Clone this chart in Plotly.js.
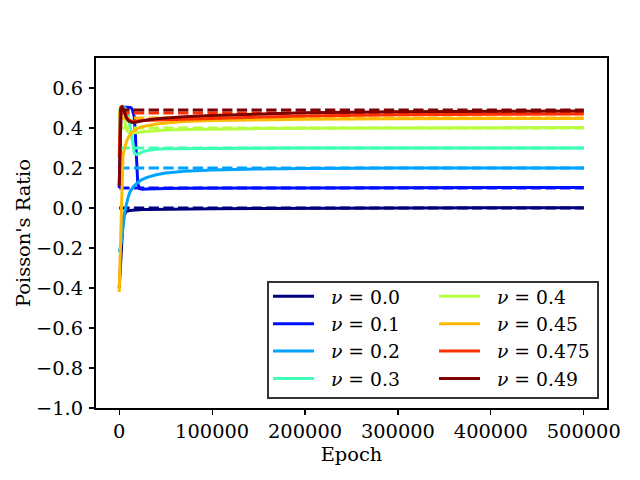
<!DOCTYPE html>
<html>
<head>
<meta charset="utf-8">
<script src="https://cdn.plot.ly/plotly-3.0.1.min.js"></script>
<style>html,body{margin:0;padding:0;background:#fff;}#chart{width:640px;height:480px;}</style>
</head>
<body>
<div id="chart"></div>
<script>
// ---- data ----
const nus = [0.0, 0.1, 0.2, 0.3, 0.4, 0.45, 0.475, 0.49];
const nuLabels = ['0.0', '0.1', '0.2', '0.3', '0.4', '0.45', '0.475', '0.49'];
const epochs = [0, 1000, 2000, 3000, 4000, 5000, 6000, 7000, 8000, 10000, 12000, 14000, 16000, 17000, 18000, 19000, 20000, 22000, 25000, 30000, 40000, 50000, 70000, 100000, 150000, 200000, 300000, 400000, 500000];
const pr_00  = [-0.40, -0.31, -0.22, -0.13, -0.07, -0.04, -0.028, -0.02, -0.016, -0.013, -0.012, -0.011, -0.010, -0.010, -0.010, -0.009, -0.009, -0.009, -0.008, -0.008, -0.007, -0.006, -0.005, -0.004, -0.002, -0.001, 0.000, 0.001, 0.001];
const pr_01  = [0.10, 0.42, 0.50, 0.505, 0.505, 0.505, 0.505, 0.505, 0.505, 0.505, 0.503, 0.495, 0.46, 0.40, 0.29, 0.18, 0.12, 0.097, 0.094, 0.095, 0.097, 0.098, 0.099, 0.100, 0.100, 0.100, 0.101, 0.103, 0.103];
const pr_02  = [-0.22, -0.20, -0.18, -0.14, -0.09, -0.05, -0.02, 0.005, 0.03, 0.06, 0.085, 0.10, 0.11, 0.115, 0.12, 0.124, 0.128, 0.135, 0.143, 0.153, 0.166, 0.175, 0.184, 0.19, 0.195, 0.198, 0.20, 0.20, 0.20];
const pr_03  = [0.35, 0.48, 0.50, 0.505, 0.505, 0.50, 0.50, 0.495, 0.49, 0.46, 0.40, 0.32, 0.28, 0.272, 0.268, 0.267, 0.268, 0.273, 0.28, 0.288, 0.294, 0.296, 0.297, 0.298, 0.299, 0.30, 0.30, 0.30, 0.30];
const pr_04  = [0.45, 0.50, 0.505, 0.50, 0.485, 0.46, 0.43, 0.41, 0.39, 0.378, 0.375, 0.375, 0.376, 0.377, 0.377, 0.378, 0.378, 0.379, 0.381, 0.383, 0.387, 0.39, 0.392, 0.395, 0.397, 0.399, 0.40, 0.401, 0.402];
const pr_045 = [-0.42, -0.25, 0.02, 0.20, 0.26, 0.285, 0.305, 0.32, 0.335, 0.355, 0.37, 0.38, 0.388, 0.391, 0.394, 0.397, 0.40, 0.403, 0.407, 0.412, 0.42, 0.425, 0.432, 0.437, 0.441, 0.444, 0.446, 0.447, 0.448];
const pr_0475 = [0.25, 0.48, 0.505, 0.505, 0.50, 0.49, 0.475, 0.46, 0.45, 0.44, 0.435, 0.433, 0.433, 0.433, 0.434, 0.434, 0.435, 0.436, 0.437, 0.438, 0.44, 0.441, 0.444, 0.448, 0.455, 0.46, 0.466, 0.469, 0.47];
const pr_049 = [0.11, 0.42, 0.50, 0.505, 0.50, 0.49, 0.475, 0.46, 0.448, 0.435, 0.43, 0.428, 0.428, 0.428, 0.429, 0.43, 0.431, 0.433, 0.436, 0.44, 0.446, 0.45, 0.456, 0.462, 0.47, 0.476, 0.481, 0.484, 0.485];
const series = [pr_00, pr_01, pr_02, pr_03, pr_04, pr_045, pr_0475, pr_049];
const epochEnd = 500000;
const xTicks = [0, 100000, 200000, 300000, 400000, 500000];
const yTicks = [-1.0, -0.8, -0.6, -0.4, -0.2, 0.0, 0.2, 0.4, 0.6];

// ---- styles ----
const colors = ['#00007f', '#0010ff', '#00a4ff', '#40ffb6', '#b6ff40', '#ffb900', '#ff3000', '#7f0000'];
const LW = 3;
const FS = 19.4;
const LFS = 18.8;
const traces = [];
nus.forEach((nu, i) => {
  traces.push({
    type: 'scatter', mode: 'lines', x: epochs, y: series[i],
    line: {color: colors[i], width: LW},
    name: '\u00a0\u00a0<i>\u03bd</i> = ' + nuLabels[i],
    legend: i < 4 ? 'legend' : 'legend2',
    legendgroup: 'g' + i,
    hoverinfo: 'skip'
  });
  traces.push({
    type: 'scatter', mode: 'lines', x: [0, epochEnd], y: [nu, nu],
    line: {color: colors[i], width: LW, dash: '10.3px,4.4px'},
    showlegend: false, hoverinfo: 'skip'
  });
});

const W = 511, H = 350, L = 96, T = 58;
const px = v => (v - L) / W;
const py = v => (T + H - v) / H;
const axisCommon = {
  showline: true, mirror: true, linewidth: 2, linecolor: '#000',
  ticks: 'outside', ticklen: 5, tickwidth: 1.1, tickcolor: '#000',
  showgrid: false, zeroline: false, fixedrange: true,
  tickfont: {size: FS}
};
const legCommon = {
  bgcolor: 'rgba(0,0,0,0)', borderwidth: 0, itemwidth: 41,
  xanchor: 'left', yanchor: 'top', tracegroupgap: 0,
  font: {family: 'DejaVu Serif', size: LFS, color: '#000'}
};
const layout = {
  width: 640, height: 480,
  paper_bgcolor: '#fff', plot_bgcolor: '#fff',
  font: {family: 'DejaVu Serif', size: FS, color: '#000'},
  margin: {l: L, r: 640 - L - W, t: T, b: 480 - T - H},
  xaxis: Object.assign({}, axisCommon, {
    range: [-25000, 525000], tickvals: xTicks, tickformat: 'd',
    title: {text: 'Epoch', font: {size: FS}, standoff: 0}
  }),
  yaxis: Object.assign({}, axisCommon, {
    range: [-1.0, 0.75], tickvals: yTicks, tickformat: '.1f',
    ticklabelstandoff: 2,
    title: {text: "Poisson's Ratio", font: {size: FS}, standoff: 0}
  }),
  showlegend: true,
  legend: Object.assign({}, legCommon, {x: px(268), y: py(277.5)}),
  legend2: Object.assign({}, legCommon, {x: px(434), y: py(277.5)}),
  shapes: [{
    type: 'rect', xref: 'paper', yref: 'paper', layer: 'above',
    x0: px(268), x1: px(598), y0: py(398), y1: py(282),
    line: {color: '#333', width: 2}, fillcolor: '#fff'
  }]
};
Plotly.newPlot('chart', traces, layout, {staticPlot: true, displayModeBar: false});
</script>
</body>
</html>
